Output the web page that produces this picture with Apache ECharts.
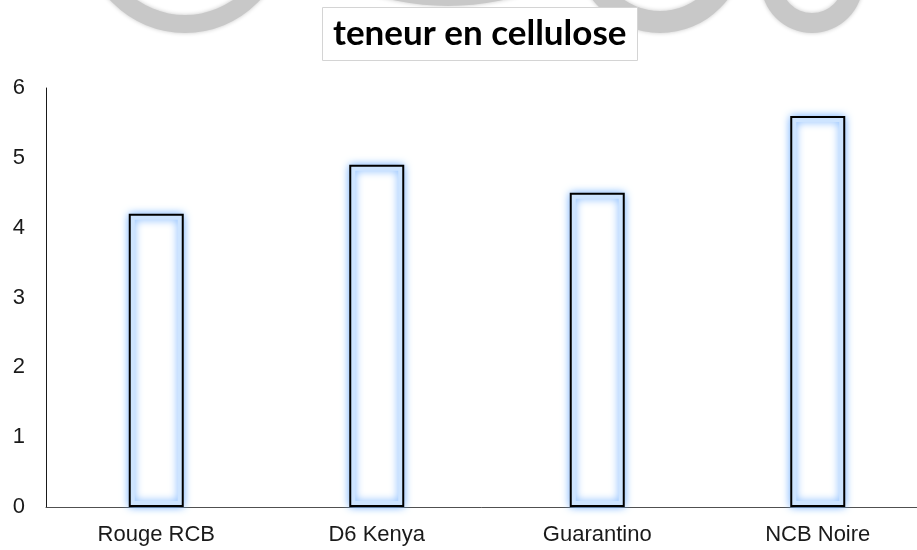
<!DOCTYPE html>
<html>
<head>
<meta charset="utf-8">
<script src="https://cdn.jsdelivr.net/npm/echarts@6/dist/echarts.min.js"></script>
<style>
  html, body { margin: 0; padding: 0; background: #fff; }
  #main { width: 917px; height: 550px; }
</style>
</head>
<body>
<div id="main"></div>
<script>
var categories = ['Rouge RCB', 'D6 Kenya', 'Guarantino', 'NCB Noire']
var values = [4.2, 4.9, 4.5, 5.6]
var yTicks = [0, 1, 2, 3, 4, 5, 6]

var chartDom = document.getElementById('main')
var myChart = echarts.init(chartDom)

// faint grey rings peeking in at the top (background watermark)
var rings = [
  { cx: 185, cy: -69, r: 102, r0: 84 },
  { cx: 448, cy: -250, r: 256, r0: 236 },
  { cx: 660, cy: -52, r: 85, r0: 63 },
  { cx: 812, cy: -18, r: 51, r0: 31 }
]

var option = {
  backgroundColor: '#fff',
  animation: false,
  graphic: rings.map(function (g) {
    return {
      type: 'ring',
      z: 0,
      silent: true,
      shape: g,
      style: { fill: '#c8c8c8', shadowColor: '#c8c8c8', shadowBlur: 4 }
    }
  }),
  title: {
    text: 'teneur en cellulose',
    left: 322,
    top: 7,
    z: 10,
    padding: [9, 11, 9, 11],
    backgroundColor: '#fff',
    borderColor: '#d4d4d4',
    borderWidth: 1,
    textStyle: {
      fontFamily: 'Lato',
      fontWeight: 'bold',
      fontSize: 35,
      color: '#000',
      lineHeight: 36
    }
  },
  grid: {
    left: 46,
    width: 882,
    top: 88,
    bottom: 43,
    outerBoundsMode: 'none'
  },
  xAxis: {
    type: 'category',
    data: categories,
    axisLine: { lineStyle: { color: '#505050', width: 1 } },
    axisTick: { show: false },
    axisLabel: {
      margin: 17,
      fontFamily: 'Liberation Sans',
      fontSize: 22,
      color: '#1a1a1a'
    }
  },
  yAxis: {
    type: 'value',
    min: yTicks[0],
    max: yTicks[yTicks.length - 1],
    interval: 1,
    axisLine: { show: true, lineStyle: { color: '#1a1a1a', width: 1 } },
    axisTick: { show: false },
    splitLine: { show: false },
    axisLabel: {
      margin: 21,
      fontFamily: 'Liberation Sans',
      fontSize: 22,
      color: '#1a1a1a'
    }
  },
  series: [
    {
      // soft blue glow around each column
      type: 'bar',
      data: values,
      barWidth: 55,
      silent: true,
      itemStyle: {
        color: '#fff',
        borderColor: 'rgba(205,228,255,1)',
        borderWidth: 6,
        shadowColor: 'rgba(125,182,255,1)',
        shadowBlur: 9
      }
    },
    {
      type: 'bar',
      data: values,
      barWidth: 55,
      barGap: '-100%',
      itemStyle: {
        color: 'transparent',
        borderColor: '#000',
        borderWidth: 2
      }
    }
  ]
}

option && myChart.setOption(option)
</script>
</body>
</html>
